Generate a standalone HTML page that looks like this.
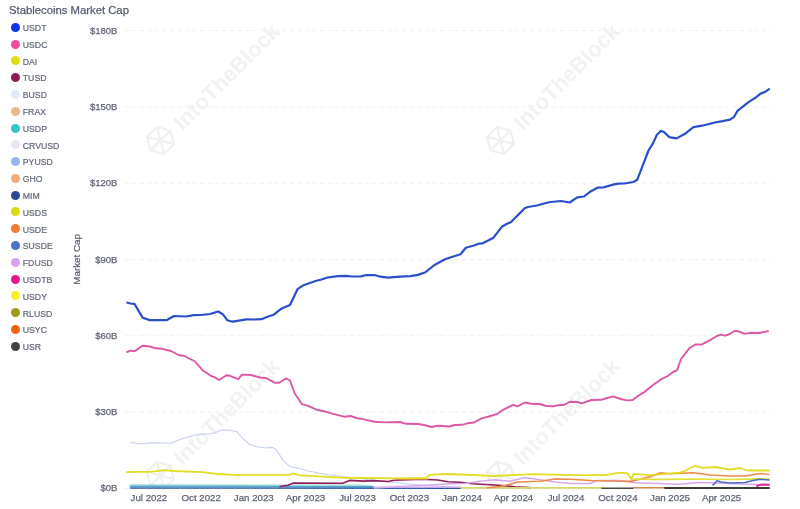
<!DOCTYPE html>
<html><head><meta charset="utf-8"><style>
html,body{margin:0;padding:0;background:#fff;}
body{width:800px;height:509px;overflow:hidden;position:relative;font-family:"Liberation Sans",sans-serif;}
.t{position:absolute;white-space:nowrap;}
#title{left:9px;top:3.6px;font-size:11.3px;color:#575d6e;-webkit-text-stroke:0.25px #575d6e;}
.lg{position:absolute;left:10.5px;height:12px;}
.lg i{position:absolute;left:0;top:1.5px;width:9px;height:9px;border-radius:50%;}
.lg span{position:absolute;left:12.3px;top:0.8px;font-size:8.7px;line-height:12px;color:#626878;-webkit-text-stroke:0.2px #626878;}
.yl{position:absolute;right:682.6px;font-size:9.5px;color:#5f6575;line-height:12px;-webkit-text-stroke:0.25px #5f6575;}
.xl{position:absolute;font-size:9.7px;color:#5f6575;line-height:12px;-webkit-text-stroke:0.25px #5f6575;}
svg{position:absolute;left:0;top:0;}
#wrap{position:absolute;left:0;top:0;width:800px;height:509px;filter:blur(0.35px);background:#fff;}
</style></head><body>
<div id="wrap">
<svg width="800" height="509" viewBox="0 0 800 509">

<g transform="translate(160.5,140.5) rotate(-45)" fill="none" stroke="#f0f0f0" stroke-width="2.2" stroke-linejoin="round"><polygon points="-14,0 -7,-12.1 7,-12.1 14,0 7,12.1 -7,12.1"/><path d="M-14,0 L14,0 M-7,-12.1 L7,12.1 M7,-12.1 L-7,12.1"/></g>
<text x="0" y="0" transform="translate(160.5,140.5) rotate(-45) translate(22,9)" font-family="Liberation Sans" font-weight="bold" font-size="22" fill="#f2f2f2">IntoTheBlock</text>
<g transform="translate(500.5,140.5) rotate(-45)" fill="none" stroke="#f0f0f0" stroke-width="2.2" stroke-linejoin="round"><polygon points="-14,0 -7,-12.1 7,-12.1 14,0 7,12.1 -7,12.1"/><path d="M-14,0 L14,0 M-7,-12.1 L7,12.1 M7,-12.1 L-7,12.1"/></g>
<text x="0" y="0" transform="translate(500.5,140.5) rotate(-45) translate(22,9)" font-family="Liberation Sans" font-weight="bold" font-size="22" fill="#f2f2f2">IntoTheBlock</text>
<g transform="translate(160.5,475.5) rotate(-45)" fill="none" stroke="#f0f0f0" stroke-width="2.2" stroke-linejoin="round"><polygon points="-14,0 -7,-12.1 7,-12.1 14,0 7,12.1 -7,12.1"/><path d="M-14,0 L14,0 M-7,-12.1 L7,12.1 M7,-12.1 L-7,12.1"/></g>
<text x="0" y="0" transform="translate(160.5,475.5) rotate(-45) translate(22,9)" font-family="Liberation Sans" font-weight="bold" font-size="22" fill="#f2f2f2">IntoTheBlock</text>
<g transform="translate(500.5,475.5) rotate(-45)" fill="none" stroke="#f0f0f0" stroke-width="2.2" stroke-linejoin="round"><polygon points="-14,0 -7,-12.1 7,-12.1 14,0 7,12.1 -7,12.1"/><path d="M-14,0 L14,0 M-7,-12.1 L7,12.1 M7,-12.1 L-7,12.1"/></g>
<text x="0" y="0" transform="translate(500.5,475.5) rotate(-45) translate(22,9)" font-family="Liberation Sans" font-weight="bold" font-size="22" fill="#f2f2f2">IntoTheBlock</text>
<line x1="125" y1="30.6" x2="772" y2="30.6" stroke="#efeff2" stroke-width="1" stroke-dasharray="4 3.5"/>
<line x1="125" y1="106.9" x2="772" y2="106.9" stroke="#efeff2" stroke-width="1" stroke-dasharray="4 3.5"/>
<line x1="125" y1="183.2" x2="772" y2="183.2" stroke="#efeff2" stroke-width="1" stroke-dasharray="4 3.5"/>
<line x1="125" y1="259.5" x2="772" y2="259.5" stroke="#efeff2" stroke-width="1" stroke-dasharray="4 3.5"/>
<line x1="125" y1="335.8" x2="772" y2="335.8" stroke="#efeff2" stroke-width="1" stroke-dasharray="4 3.5"/>
<line x1="125" y1="412.1" x2="772" y2="412.1" stroke="#efeff2" stroke-width="1" stroke-dasharray="4 3.5"/>
<line x1="125" y1="488.4" x2="772" y2="488.4" stroke="#efeff2" stroke-width="1" stroke-dasharray="4 3.5"/>
<path d="M130.5,442.5 L141.0,444.0 L150.0,442.8 L171.0,443.2 L180.0,439.5 L195.0,435.0 L213.0,433.5 L222.0,429.8 L229.5,430.2 L237.1,431.8 L242.4,438.0 L249.4,444.2 L256.5,446.8 L265.3,448.0 L272.4,447.4 L276.0,449.5 L283.0,460.1 L290.1,466.8 L297.2,468.0 L309.5,471.2 L327.2,474.6 L340.0,476.0 L349.0,477.2 L380.0,481.0 L420.0,485.0 L460.0,487.5 L520.0,488.5" fill="none" stroke="#c6d0f0" stroke-width="1.15" stroke-linejoin="round" stroke-linecap="round" opacity="1"/>
<path d="M130.5,484.9 L360.0,485.2 L372.0,486.2" fill="none" stroke="#9ad8c8" stroke-width="1.3" stroke-linejoin="round" stroke-linecap="round" opacity="1"/>
<path d="M130.5,486.5 L373.5,486.8" fill="none" stroke="#4aa6d6" stroke-width="1.8" stroke-linejoin="round" stroke-linecap="round" opacity="1"/>
<path d="M130.5,488.1 L461.0,488.2" fill="none" stroke="#2c55a6" stroke-width="1.4" stroke-linejoin="round" stroke-linecap="round" opacity="1"/>
<path d="M373.5,487.4 L461.0,487.2" fill="none" stroke="#c4a8ee" stroke-width="1.4" stroke-linejoin="round" stroke-linecap="round" opacity="1"/>
<path d="M280.0,486.5 L288.0,485.2 L293.5,483.0 L342.8,483.2 L349.5,480.4 L363.8,481.1 L373.5,480.6 L388.5,481.5 L394.0,480.2 L415.0,479.5 L427.0,479.5 L437.5,480.0 L448.0,481.8 L460.0,482.2 L472.5,483.8 L498.8,485.2 L515.0,486.8 L530.0,487.6" fill="none" stroke="#8e1f5c" stroke-width="1.6" stroke-linejoin="round" stroke-linecap="round" opacity="1"/>
<path d="M461.0,487.9 L602.0,487.8" fill="none" stroke="#d4d66a" stroke-width="1.7" stroke-linejoin="round" stroke-linecap="round" opacity="1"/>
<path d="M602.0,488.2 L633.0,488.2" fill="none" stroke="#4a4a40" stroke-width="1.6" stroke-linejoin="round" stroke-linecap="round" opacity="1"/>
<path d="M633.5,487.7 L665.0,487.7" fill="none" stroke="#c98a4a" stroke-width="1.6" stroke-linejoin="round" stroke-linecap="round" opacity="1"/>
<path d="M665.0,488.0 L769.0,488.0" fill="none" stroke="#3e3a36" stroke-width="1.8" stroke-linejoin="round" stroke-linecap="round" opacity="1"/>
<path d="M401.0,479.4 L427.5,479.4" fill="none" stroke="#d07a46" stroke-width="1.3" stroke-linejoin="round" stroke-linecap="round" opacity="1"/>
<path d="M374.5,488.0 L400.0,486.5 L430.0,485.0 L450.0,483.7 L465.0,483.5 L480.0,481.2 L495.0,479.8 L510.0,481.2 L525.0,477.5 L540.0,479.8 L555.0,482.0 L570.0,483.5 L590.0,483.5 L597.5,480.5 L620.0,480.5 L635.0,482.8 L657.5,483.5 L680.0,484.2 L700.0,482.5 L758.0,484.5" fill="none" stroke="#d8a8ee" stroke-width="1.5" stroke-linejoin="round" stroke-linecap="round" opacity="1"/>
<path d="M487.0,487.8 L500.0,486.5 L510.0,484.2 L517.5,482.0 L540.0,481.2 L555.0,479.0 L570.0,479.3 L590.0,480.5 L620.0,481.2 L630.8,481.4 L650.0,476.8 L660.0,472.9 L670.0,473.8 L692.5,472.7 L700.0,473.5 L710.0,475.0 L730.0,476.0 L745.0,476.0 L760.0,473.5 L769.0,474.5" fill="none" stroke="#ee8a4a" stroke-width="1.6" stroke-linejoin="round" stroke-linecap="round" opacity="1"/>
<path d="M631.0,479.0 L650.0,479.3 L670.0,479.3 L700.0,479.0 L730.0,479.5 L755.0,478.8 L769.0,479.2" fill="none" stroke="#e4e03a" stroke-width="1.7" stroke-linejoin="round" stroke-linecap="round" opacity="1"/>
<path d="M127.0,472.2 L135.0,471.8 L150.0,471.8 L165.0,470.2 L172.5,471.0 L202.5,472.2 L217.5,474.0 L240.0,475.2 L265.3,475.1 L288.3,475.1 L293.6,473.3 L298.9,475.1 L318.4,476.4 L344.9,477.8 L370.0,478.0 L392.5,478.3 L426.0,478.0 L430.0,474.8 L445.0,474.0 L460.0,474.5 L495.0,476.0 L532.5,474.2 L570.0,475.2 L605.0,475.2 L620.0,472.7 L627.5,473.3 L631.2,478.8 L633.5,473.8 L650.0,475.2 L680.0,472.7 L685.0,470.8 L694.0,466.2 L698.5,466.7 L703.0,467.8 L715.0,467.0 L730.0,469.5 L740.0,468.0 L748.0,470.5 L769.0,470.5" fill="none" stroke="#e2de24" stroke-width="1.8" stroke-linejoin="round" stroke-linecap="round" opacity="1"/>
<path d="M713.0,485.0 L717.0,480.8 L721.0,482.0 L730.0,483.0 L745.0,482.5 L753.0,480.5 L760.0,479.2 L769.0,480.0" fill="none" stroke="#4a6cc4" stroke-width="1.6" stroke-linejoin="round" stroke-linecap="round" opacity="1"/>
<path d="M757.0,486.0 L761.0,484.6 L769.0,484.8" fill="none" stroke="#e0288e" stroke-width="2" stroke-linejoin="round" stroke-linecap="round" opacity="1"/>
<path d="M127.0,352.0 L130.5,350.7 L135.0,351.0 L142.5,345.8 L150.0,346.5 L156.0,348.3 L162.0,348.8 L171.0,351.0 L178.5,355.0 L184.5,356.0 L195.0,361.5 L202.5,370.2 L211.5,376.2 L214.5,377.1 L219.0,380.0 L226.5,375.3 L230.0,375.8 L238.2,379.2 L242.0,374.6 L251.0,375.0 L260.0,377.5 L266.0,378.0 L275.0,382.8 L279.5,382.5 L286.2,378.4 L290.0,380.5 L294.5,393.0 L302.0,404.2 L308.0,405.8 L317.0,409.8 L326.0,411.8 L335.0,414.3 L344.0,416.7 L350.5,416.0 L356.5,418.0 L364.0,419.4 L374.5,421.7 L385.0,422.4 L400.0,422.0 L406.0,423.8 L418.0,424.0 L424.0,425.0 L431.5,427.0 L437.5,425.8 L449.5,426.5 L454.5,425.0 L462.0,424.8 L468.0,423.2 L474.0,422.5 L481.5,418.3 L489.0,416.5 L496.5,414.2 L502.5,410.2 L513.0,404.8 L517.5,406.3 L525.0,402.5 L531.0,403.8 L540.0,404.0 L546.0,406.0 L553.5,406.3 L558.0,405.2 L564.0,405.0 L569.8,401.8 L577.7,402.0 L581.6,403.3 L591.4,400.0 L601.2,399.8 L607.1,398.0 L613.0,396.4 L620.9,399.0 L626.8,400.4 L632.7,400.0 L638.6,395.5 L644.5,392.1 L652.3,385.6 L661.6,379.0 L668.1,375.8 L673.0,372.0 L677.0,370.4 L681.1,358.8 L684.4,354.7 L689.2,348.2 L695.8,344.4 L701.4,344.6 L708.8,340.9 L716.9,336.0 L720.9,334.7 L725.0,335.7 L729.9,334.0 L734.8,330.8 L738.0,331.1 L744.5,333.9 L751.0,332.8 L759.1,333.0 L768.1,331.1" fill="none" stroke="#dc58a4" stroke-width="1.9" stroke-linejoin="round" stroke-linecap="round" opacity="1"/>
<path d="M127.3,302.7 L130.3,303.5 L134.4,303.8 L142.6,317.6 L150.0,320.2 L166.5,320.2 L174.0,316.0 L186.0,316.5 L193.5,315.2 L201.0,315.0 L210.0,314.0 L218.2,311.5 L222.8,314.2 L227.2,320.2 L232.5,321.7 L237.5,320.8 L246.5,319.4 L254.0,319.5 L261.5,319.2 L267.5,316.7 L273.5,314.8 L281.0,308.8 L290.0,305.0 L297.5,289.2 L303.5,285.2 L315.5,281.0 L321.5,279.5 L327.5,277.5 L338.0,276.2 L346.0,275.8 L352.0,276.5 L361.0,276.4 L365.5,275.2 L374.5,275.0 L380.5,276.7 L388.0,277.6 L400.0,276.7 L410.5,276.1 L418.0,274.9 L425.5,272.2 L434.5,265.0 L445.0,259.3 L451.0,257.2 L460.5,254.2 L465.8,247.8 L474.0,245.5 L478.5,243.7 L482.2,243.5 L493.5,237.7 L501.8,226.8 L507.0,223.8 L510.8,222.2 L525.0,208.0 L528.0,207.0 L537.0,205.5 L543.0,203.8 L550.5,202.0 L561.0,201.0 L569.8,202.5 L577.2,197.3 L584.0,196.5 L590.0,191.8 L597.5,187.7 L603.5,187.4 L614.0,184.4 L618.5,183.7 L624.5,183.5 L633.5,182.0 L637.2,179.8 L642.5,166.2 L648.5,150.5 L653.1,143.1 L656.9,134.7 L661.0,130.9 L664.4,132.2 L669.1,137.1 L676.6,138.4 L685.0,133.8 L693.4,127.2 L701.9,125.7 L715.0,122.5 L722.5,121.2 L730.0,119.7 L733.8,117.2 L737.5,110.9 L748.8,101.9 L756.2,97.2 L761.0,93.4 L764.7,92.1 L769.0,89.1" fill="none" stroke="#2b4ecb" stroke-width="2.2" stroke-linejoin="round" stroke-linecap="round" opacity="1"/>
<text x="0" y="0" transform="translate(80.3,259.4) rotate(-90)" text-anchor="middle" font-family="Liberation Sans" font-size="9.8" fill="#5c6273" stroke="#5c6273" stroke-width="0.22">Market Cap</text>
</svg>
<div id="title" class="t">Stablecoins Market Cap</div>
<div class="lg" style="top:21.30px"><i style="background:#0a36e6"></i><span>USDT</span></div>
<div class="lg" style="top:38.09px"><i style="background:#f24b9f"></i><span>USDC</span></div>
<div class="lg" style="top:54.88px"><i style="background:#e2dd12"></i><span>DAI</span></div>
<div class="lg" style="top:71.67px"><i style="background:#901b57"></i><span>TUSD</span></div>
<div class="lg" style="top:88.46px"><i style="background:#dfe8f8"></i><span>BUSD</span></div>
<div class="lg" style="top:105.25px"><i style="background:#ecba8a"></i><span>FRAX</span></div>
<div class="lg" style="top:122.04px"><i style="background:#33c6c8"></i><span>USDP</span></div>
<div class="lg" style="top:138.83px"><i style="background:#f0e2f6"></i><span>CRVUSD</span></div>
<div class="lg" style="top:155.62px"><i style="background:#9bb6ee"></i><span>PYUSD</span></div>
<div class="lg" style="top:172.41px"><i style="background:#f5aa7a"></i><span>GHO</span></div>
<div class="lg" style="top:189.20px"><i style="background:#2d4a9a"></i><span>MIM</span></div>
<div class="lg" style="top:205.99px"><i style="background:#dedb14"></i><span>USDS</span></div>
<div class="lg" style="top:222.78px"><i style="background:#f27d32"></i><span>USDE</span></div>
<div class="lg" style="top:239.57px"><i style="background:#4a72c9"></i><span>SUSDE</span></div>
<div class="lg" style="top:256.36px"><i style="background:#d9a2ee"></i><span>FDUSD</span></div>
<div class="lg" style="top:273.15px"><i style="background:#e8168e"></i><span>USDTB</span></div>
<div class="lg" style="top:289.94px"><i style="background:#f5f222"></i><span>USDY</span></div>
<div class="lg" style="top:306.73px"><i style="background:#9d9c14"></i><span>RLUSD</span></div>
<div class="lg" style="top:323.52px"><i style="background:#f26212"></i><span>USYC</span></div>
<div class="lg" style="top:340.31px"><i style="background:#424242"></i><span>USR</span></div>
<div class="yl" style="top:24.6px">$180B</div>
<div class="yl" style="top:100.9px">$150B</div>
<div class="yl" style="top:177.2px">$120B</div>
<div class="yl" style="top:253.5px">$90B</div>
<div class="yl" style="top:329.8px">$60B</div>
<div class="yl" style="top:406.1px">$30B</div>
<div class="yl" style="top:482.4px">$0B</div>
<div class="xl" style="left:148.9px;top:491.5px;transform:translateX(-50%)">Jul 2022</div>
<div class="xl" style="left:201.2px;top:491.5px;transform:translateX(-50%)">Oct 2022</div>
<div class="xl" style="left:253.8px;top:491.5px;transform:translateX(-50%)">Jan 2023</div>
<div class="xl" style="left:305.5px;top:491.5px;transform:translateX(-50%)">Apr 2023</div>
<div class="xl" style="left:357.5px;top:491.5px;transform:translateX(-50%)">Jul 2023</div>
<div class="xl" style="left:409.5px;top:491.5px;transform:translateX(-50%)">Oct 2023</div>
<div class="xl" style="left:462.0px;top:491.5px;transform:translateX(-50%)">Jan 2024</div>
<div class="xl" style="left:513.5px;top:491.5px;transform:translateX(-50%)">Apr 2024</div>
<div class="xl" style="left:566.0px;top:491.5px;transform:translateX(-50%)">Jul 2024</div>
<div class="xl" style="left:618.0px;top:491.5px;transform:translateX(-50%)">Oct 2024</div>
<div class="xl" style="left:670.0px;top:491.5px;transform:translateX(-50%)">Jan 2025</div>
<div class="xl" style="left:721.6px;top:491.5px;transform:translateX(-50%)">Apr 2025</div>
</div></body></html>
